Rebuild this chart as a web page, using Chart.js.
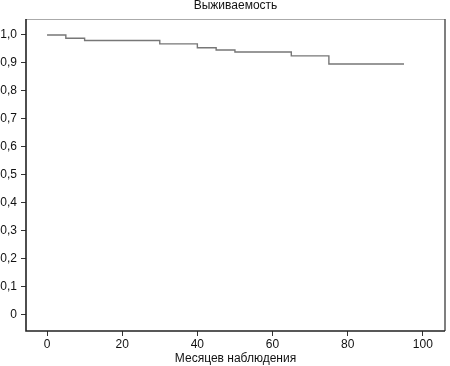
<!DOCTYPE html>
<html>
<head>
<meta charset="utf-8">
<script src="https://cdn.jsdelivr.net/npm/chart.js@4/dist/chart.umd.min.js"></script>
<style>
  html, body { margin: 0; padding: 0; background: #fff; }
  #wrap { width: 450px; height: 366px; }
</style>
</head>
<body>
<div id="wrap"><canvas id="kmChart"></canvas></div>
<script>
// время наблюдения (месяцы) и доля выживших
var months   = [0, 5, 10, 30, 40, 45, 50, 65, 75, 95];
var survival = [1.0, 0.988, 0.980, 0.968, 0.954, 0.946, 0.939, 0.925, 0.896, 0.896];
var xTicks = [0, 20, 40, 60, 80, 100];
var yTicks = [0, 0.1, 0.2, 0.3, 0.4, 0.5, 0.6, 0.7, 0.8, 0.9, 1.0];

var points = [];
for (var i = 0; i < months.length; i++) {
  points.push({x: months[i], y: survival[i]});
}

// рамка вокруг области графика
var frame = {
  id: "frame",
  afterDraw: function (chart) {
    var c = chart.ctx, a = chart.chartArea;
    c.save();
    c.lineWidth = 1;
    c.strokeStyle = "#aaa";
    c.beginPath(); c.moveTo(a.left, a.top + 0.5); c.lineTo(a.right, a.top + 0.5); c.stroke();
    c.strokeStyle = "#555";
    c.lineWidth = 1.5;
    c.beginPath(); c.moveTo(a.right, a.top); c.lineTo(a.right, a.bottom); c.stroke();
    c.strokeStyle = "#222";
    c.lineWidth = 1.6;
    c.beginPath(); c.moveTo(a.left, a.top); c.lineTo(a.left, a.bottom); c.lineTo(a.right, a.bottom); c.stroke();
    c.restore();
  }
};

var ctx = document.getElementById("kmChart");
var myChart = new Chart(ctx, {
  type: "line",
  data: {
    datasets: [{
      label: "Выживаемость",
      data: points,
      stepped: true,
      borderColor: "#777",
      borderWidth: 1.4,
      pointRadius: 0,
      fill: false
    }]
  },
  options: {
    responsive: true,
    maintainAspectRatio: false,
    animation: false,
    layout: { padding: { left: 0, right: 5, top: 0, bottom: 0 } },
    plugins: {
      legend: { display: false },
      tooltip: { enabled: false },
      title: {
        display: true,
        fullSize: false,
        text: "Выживаемость",
        color: "#111",
        font: { family: "Liberation Sans, Arial", size: 12, weight: "normal", lineHeight: 0.9 },
        padding: { top: 0, bottom: 8.2 }
      }
    },
    scales: {
      x: {
        type: "linear",
        min: -5.6,
        max: 105.9,
        afterBuildTicks: function (s) { s.ticks = xTicks.map(function (v) { return {value: v}; }); },
        afterFit: function (s) { s.height = 35; },
        grid: { drawOnChartArea: false, drawTicks: true, tickLength: 5, color: "#333", lineWidth: 1 },
        border: { display: false },
        ticks: {
          color: "#111",
          padding: 1,
          maxRotation: 0,
          font: { family: "Liberation Sans, Arial", size: 12 }
        },
        title: {
          display: true,
          text: "Месяцев наблюдения",
          color: "#111",
          font: { family: "Liberation Sans, Arial", size: 12 },
          padding: { top: 0, bottom: 0 }
        }
      },
      y: {
        type: "linear",
        min: -0.059,
        max: 1.057,
        afterBuildTicks: function (s) { s.ticks = yTicks.map(function (v) { return {value: v}; }); },
        afterFit: function (s) { s.width = 26; },
        grid: { drawOnChartArea: false, drawTicks: true, tickLength: 5, color: "#333", lineWidth: 1 },
        border: { display: false },
        ticks: {
          color: "#111",
          padding: 4,
          font: { family: "Liberation Sans, Arial", size: 12 },
          callback: function (v) { return v === 0 ? "0" : v.toFixed(1).replace(".", ","); }
        }
      }
    }
  },
  plugins: [frame]
});
</script>
</body>
</html>
